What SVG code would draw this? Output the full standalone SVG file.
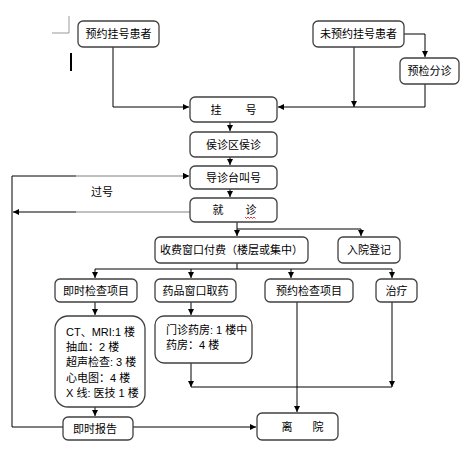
<svg xmlns="http://www.w3.org/2000/svg" width="467" height="455" viewBox="0 0 467 455">
<defs>
<marker id="arr" markerUnits="userSpaceOnUse" markerWidth="7" markerHeight="7" refX="6" refY="3" orient="auto">
<path d="M0,0 L6,3 L0,6 z" fill="#000"/>
</marker>
<style>
.box{fill:#fff;stroke:#404040;stroke-width:1.3}
.ln{fill:none;stroke:#000;stroke-width:1}
.ar{fill:none;stroke:#000;stroke-width:1;marker-end:url(#arr)}
text{font-family:"Liberation Sans","Noto Sans CJK SC",sans-serif;font-size:11px;fill:#000}
.c{text-anchor:middle}
</style>
</defs>
<rect width="467" height="455" fill="#fff"/>
<path d="M52,33 H69 V16" fill="none" stroke="#999" stroke-width="1"/>
<rect x="70" y="53" width="2" height="18" fill="#000"/>

<g id="connectors">
<path class="ar" d="M113,47 V107 H189"/>
<path class="ar" d="M354,47 V107"/>
<path class="ar" d="M425,84 V107 H278"/>
<path class="ar" d="M404,34 H425 V57"/>
<path class="ar" d="M230,122 V131"/>
<path class="ar" d="M230,157 V165"/>
<path class="ar" d="M230,189 V197"/>
<path class="ln" d="M12,176 H76"/>
<path class="ar" d="M76,176 H189" style="stroke:#808080"/>
<path d="M183,173 L189,176 L183,179 z" fill="#000"/>
<path class="ln" d="M190,212 H76" style="stroke:#808080"/>
<path class="ar" d="M76,212 H13"/>
<path class="ln" d="M12,176 V427"/>
<path class="ar" d="M12,427 H256"/>
<path class="ln" d="M237,222 V229 H361"/>
<path class="ar" d="M237,229 V236"/>
<path class="ar" d="M361,229 V236"/>
<path class="ln" d="M237,263 V269 M95,269 H392"/>
<path class="ar" d="M95,269 V278"/>
<path class="ar" d="M191,269 V278"/>
<path class="ar" d="M291,269 V278"/>
<path class="ar" d="M392,269 V278"/>
<path class="ar" d="M95,302 V315"/>
<path class="ar" d="M95,407 V416"/>
<path class="ar" d="M191,302 V315"/>
<path class="ar" d="M191,363 V387"/>
<path class="ln" d="M191,387 H392"/>
<path class="ar" d="M392,302 V387"/>
<path class="ar" d="M297,302 V412"/>
</g>

<g id="n1"><rect class="box" x="78" y="21" width="81" height="26" rx="5"/><text class="c" x="118.5" y="38">预约挂号患者</text></g>
<g id="n2"><rect class="box" x="313" y="21" width="91" height="26" rx="5"/><text class="c" x="358.5" y="38">未预约挂号患者</text></g>
<g id="n3"><rect class="box" x="400" y="58" width="59" height="26" rx="5"/><text class="c" x="429.5" y="75">预检分诊</text></g>
<g id="n4"><rect class="box" x="190" y="97" width="87" height="25" rx="5"/><text class="c" x="216" y="113.5">挂</text><text class="c" x="251" y="113.5">号</text></g>
<g id="n5"><rect class="box" x="190" y="132" width="87" height="25" rx="5"/><text class="c" x="233.5" y="148.5">侯诊区侯诊</text></g>
<g id="n6"><rect class="box" x="190" y="166" width="87" height="23" rx="5"/><text class="c" x="233.5" y="181.5">导诊台叫号</text></g>
<g id="n7"><rect class="box" x="190" y="198" width="87" height="24" rx="5"/><text class="c" x="218" y="214">就</text><text class="c" x="251" y="214">诊</text>
<path d="M245,217 l1.5,1.5 l1.5,-1.5 l1.5,1.5 l1.5,-1.5 l1.5,1.5 l1.5,-1.5 l1.5,1.5" fill="none" stroke="#e00000" stroke-width="0.8"/></g>
<g id="n8"><text class="c" x="102" y="196">过号</text></g>
<g id="n9"><rect class="box" x="155" y="237" width="153" height="26" rx="5"/><text class="c" x="231.5" y="254">收费窗口付费（楼层或集中）</text></g>
<g id="n10"><rect class="box" x="338" y="237" width="62" height="26" rx="5"/><text class="c" x="369" y="254">入院登记</text></g>
<g id="n11"><rect class="box" x="55" y="279" width="82" height="23" rx="5"/><text class="c" x="96" y="294.5">即时检查项目</text></g>
<g id="n12"><rect class="box" x="155" y="279" width="81" height="23" rx="5"/><text class="c" x="195.5" y="294.5">药品窗口取药</text></g>
<g id="n13"><rect class="box" x="265" y="279" width="88" height="23" rx="5"/><text class="c" x="309" y="294.5">预约检查项目</text></g>
<g id="n14"><rect class="box" x="376" y="279" width="41" height="23" rx="5"/><text class="c" x="396.5" y="294.5">治疗</text></g>
<g id="n15"><rect class="box" x="55" y="316" width="90" height="91" rx="13"/>
<text x="66" y="336">CT、MRI:1 楼</text>
<text x="66" y="351">抽血：2 楼</text>
<text x="66" y="366">超声检查: 3 楼</text>
<text x="66" y="382">心电图：4 楼</text>
<text x="66" y="397">X 线: 医技 1 楼</text></g>
<g id="n16"><rect class="box" x="155" y="316" width="97" height="47" rx="9"/>
<text x="166" y="334">门诊药房: 1 楼中</text>
<text x="166" y="349">药房：4 楼</text></g>
<g id="n17"><rect class="box" x="63" y="417" width="70" height="23" rx="5"/><text class="c" x="95" y="432.5">即时报告</text></g>
<g id="n18"><rect class="box" x="257" y="413" width="81" height="27" rx="5"/><text class="c" x="287" y="430.5">离</text><text class="c" x="318" y="430.5">院</text></g>
</svg>
